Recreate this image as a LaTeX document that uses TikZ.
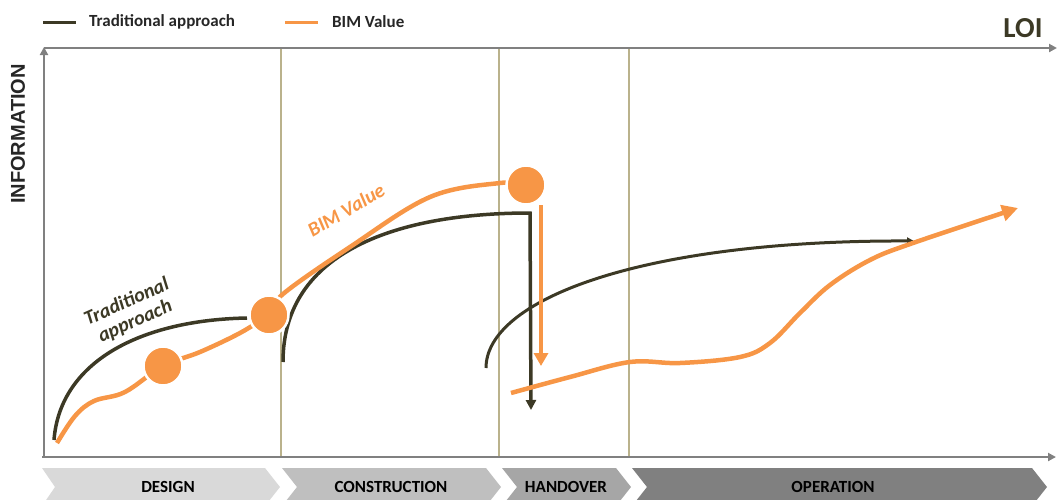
\documentclass[tikz,border=0pt]{standalone}
\usepackage{fontspec}
\setmainfont{Carlito}
\newfontfamily\arialfont{Liberation Sans}
\usetikzlibrary{arrows.meta}
\definecolor{tradcol}{RGB}{60,57,37}
\definecolor{bimcol}{RGB}{247,150,70}
\definecolor{axiscol}{RGB}{128,128,128}
\definecolor{sepcol}{RGB}{186,178,140}
\definecolor{textcol}{RGB}{38,38,38}
\definecolor{designcol}{RGB}{217,217,217}
\definecolor{constrcol}{RGB}{191,191,191}
\definecolor{handcol}{RGB}{166,166,166}
\definecolor{opercol}{RGB}{128,128,128}
\tikzset{
  trad/.style={draw=tradcol,line width=3.5pt},
  bim/.style={draw=bimcol,line width=4.5pt},
  axisline/.style={draw=axiscol,line width=2.8pt,-{Triangle[length=8pt,width=8pt]}},
  phaseline/.style={draw=sepcol,line width=1.3pt},
  dot/.style={circle,fill=bimcol,draw=white,line width=2.5pt,minimum size=39pt,inner sep=0pt},
  phase/.style={text=black,font=\bfseries\fontsize{17}{20}\selectfont},
  legend/.style={anchor=west,inner sep=0pt,text=textcol,font=\bfseries\fontsize{17}{20}\selectfont},
}
\begin{document}
\begin{tikzpicture}[x=1pt,y=-1pt]
            \clip (0,0) rectangle (1058,499);
            \coordinate (O) at (44,457);
            \coordinate (Y) at (44,47);
            \coordinate (T) at (44,48);
            \coordinate (TR) at (1057,48);
            \coordinate (B) at (42,457);
            \coordinate (BR) at (1056,457);
            \foreach \x/\n in {281/s1,499/s2,629/s3}{
              \coordinate (\n t) at (\x,49);
              \coordinate (\n b) at (\x,456);
              \draw[phaseline] (\n t) -- (\n b);
            }
            \draw[axisline] (O) -- (Y);
            \draw[axisline] (T) -- (TR);
            \draw[axisline] (B) -- (BR);
            \fill[designcol] (42,468) -- (265,468) -- (280,487) -- (265,506) -- (42,506) -- (55,487) -- cycle;
            \fill[constrcol] (282,468) -- (486,468) -- (501,487) -- (486,506) -- (282,506) -- (297,487) -- cycle;
            \fill[handcol] (502,468) -- (616,468) -- (631,487) -- (616,506) -- (502,506) -- (517,487) -- cycle;
            \fill[opercol] (632,468) -- (1032,468) -- (1047,487) -- (1032,506) -- (632,506) -- (647,487) -- cycle;
            \node[phase] (design) at (168,487) {DESIGN};
            \node[phase] (construction) at (391,487) {CONSTRUCTION};
            \node[phase] (handover) at (566,487) {HANDOVER};
            \node[phase] (operation) at (833,487) {OPERATION};
            \node[text=textcol,rotate=90,font=\arialfont\bfseries\fontsize{20}{22}\selectfont] (info) at (18,134) {INFORMATION};
            \node[text=tradcol,font=\bfseries\fontsize{29}{32}\selectfont] (loi) at (1023,28) {LOI};
            \coordinate (lt1) at (43,22);
            \coordinate (lt2) at (76,22);
            \coordinate (lb1) at (285,22);
            \coordinate (lb2) at (318,22);
            \draw[trad,line width=3pt] (lt1) -- (lt2);
            \draw[bim,line width=3pt] (lb1) -- (lb2);
            \node[legend] (ltrad) at (89,22) {Traditional approach};
            \node[legend] (lbim) at (332,22) {BIM Value};
            \node[dot] (c1) at (163,366) {};
            \node[dot] (c2) at (269,315) {};
            \node[dot] (c3) at (526,185) {};
            \coordinate (a0) at (54,440);
            \coordinate (a1) at (247,318);
            \coordinate (b0) at (283,362);
            \coordinate (b1) at (530,213);
            \coordinate (b2) at (531,410);
            \coordinate (d0) at (486,368);
            \coordinate (d1) at (914,241);
            \coordinate (e0) at (57,443);
            \coordinate (f0) at (541,205);
            \coordinate (f1) at (541,366);
            \coordinate (g0) at (511,393);
            \coordinate (g1) at (1018,208);
            \draw[trad] (a0) .. controls (60,362) and (140,320) .. (a1);
            \draw[trad,-{Triangle[length=10pt,width=10pt]}] (b0) .. controls (283,250) and (400,213) .. (b1) -- (b2);
            \draw[trad,line width=3pt,-{Triangle[length=7pt,width=7pt]}] (d0) .. controls (486,300) and (640,240) .. (d1);
            \draw[bim] plot[smooth,tension=.6] coordinates {(e0) (75,416) (94,401) (125,392) (c1.center) (200,352) (240,333) (c2.center)};
            \draw[bim] plot[smooth,tension=.6] coordinates {(c2.center) (283,294) (350,247) (430,197) (500,183) (c3.center)};
            \draw[bim,-{Triangle[length=13pt,width=14pt]}] (f0) -- (f1);
            \draw[bim,-{Triangle[length=16pt,width=16pt]}] plot[smooth,tension=.6] coordinates {(g0) (570,377) (630,362) (680,363) (740,357) (770,343) (800,313) (830,285) (870,260) (913,243) (g1)};
            \node[dot] at (c1) {};
            \node[dot] at (c2) {};
            \node[dot] at (c3) {};
            \node[rotate=24,align=center,text=tradcol,font=\bfseries\itshape\fontsize{20}{21}\selectfont] (tlab) at (131,312) {Traditional\\approach};
            \node[rotate=30,text=bimcol,font=\bfseries\itshape\fontsize{20}{22}\selectfont] (blab) at (346,210) {BIM Value};
\end{tikzpicture}
\end{document}
